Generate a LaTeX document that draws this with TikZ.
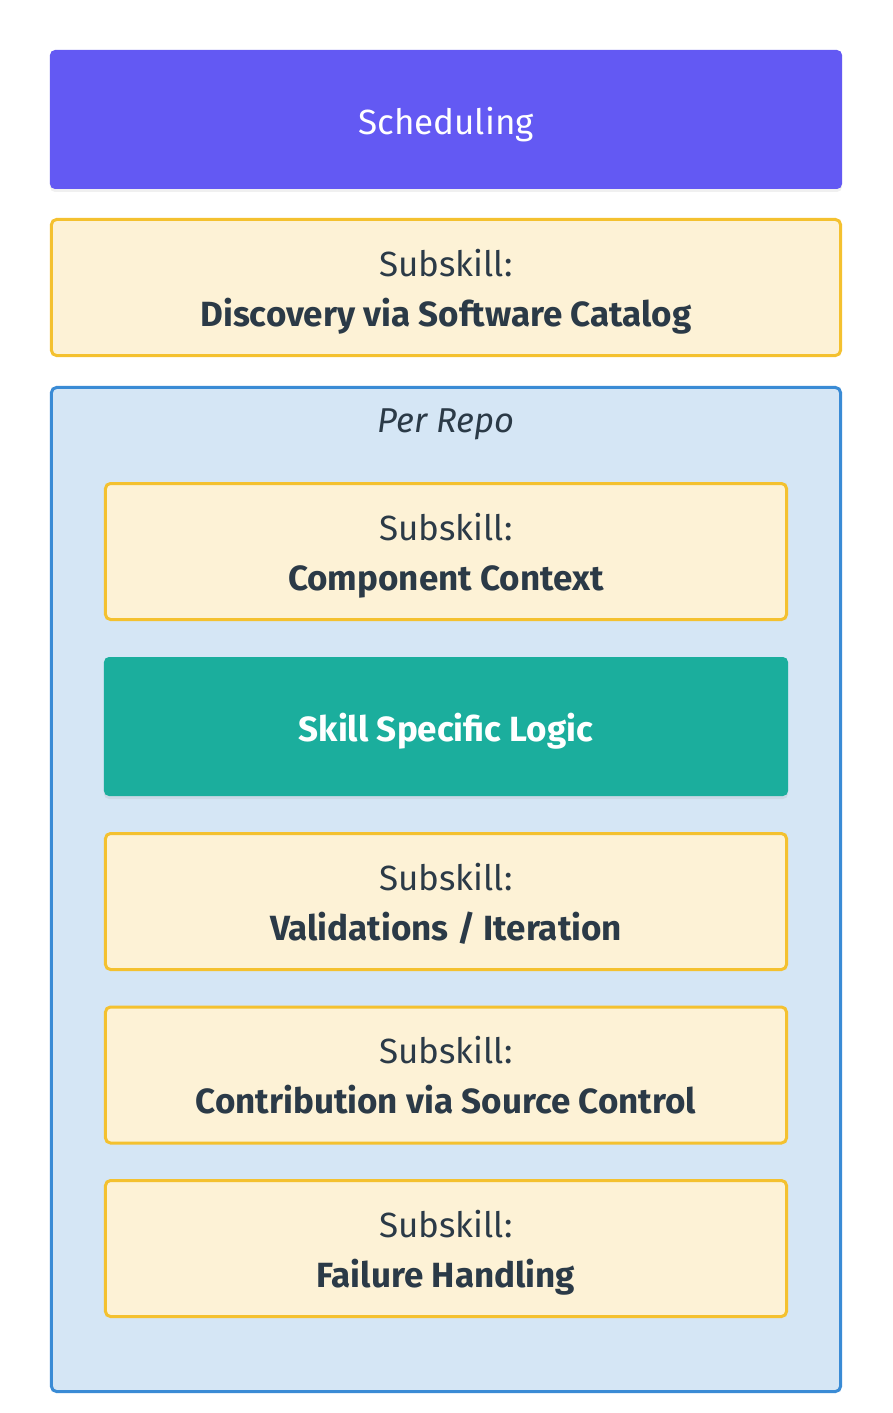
\documentclass[tikz,border=0pt]{standalone}
\usepackage{fontspec}
\setmainfont{Fira Sans}
\usetikzlibrary{positioning,shadows}
\definecolor{schedPurple}{HTML}{6359F3}
\definecolor{subFill}{HTML}{FDF2D6}
\definecolor{subBorder}{HTML}{F4C12F}
\definecolor{repoFill}{HTML}{D5E6F5}
\definecolor{repoBorder}{HTML}{3A8BD5}
\definecolor{logicTeal}{HTML}{1BAE9D}
\definecolor{inkDark}{HTML}{2B3A47}

\begin{document}
\begin{tikzpicture}[x=1bp, y=-1bp,
  box/.style={rectangle, rounded corners=5bp, outer sep=0pt, align=center,
    font=\fontsize{35bp}{50bp}\selectfont},
  subskill/.style={box, fill=subFill, draw=subBorder, line width=3bp,
    text=inkDark, minimum height=136bp, text height=77bp, text depth=0bp},
  solid box/.style={box, text=white, minimum height=139bp, text height=30bp, text depth=0bp,
    drop shadow={opacity=0.12, shadow xshift=0bp, shadow yshift=-3bp}},
  node distance=37.5bp]
	\useasboundingbox (0,0) rectangle (892,1413);
	% top row
	\node[solid box, fill=schedPurple, minimum width=792bp] (sched) at (446,119.5) {Scheduling};
	\node[subskill, minimum width=789bp] (discovery) at (446,287.5) {Subskill:\\\textbf{Discovery via Software Catalog}};
	% per repo container
	\node[box, fill=repoFill, draw=repoBorder, line width=3bp, minimum width=789bp, minimum height=1004bp] (repo) at (446,889.5) {};
	\node[font=\fontsize{34.5bp}{36bp}\selectfont\itshape, text=inkDark] (perrepo) at (446,424) {Per Repo};
	\node[subskill, minimum width=681bp] (context) at (446,551.5) {Subskill:\\\textbf{Component Context}};
	\node[solid box, fill=logicTeal, minimum width=684bp, below=of context, font=\fontsize{35bp}{36bp}\selectfont\bfseries] (logic) {Skill Specific Logic};
	\node[subskill, minimum width=681bp, below=of logic] (validate) {Subskill:\\\textbf{Validations / Iteration}};
	\node[subskill, minimum width=681bp, below=of validate] (contrib) {Subskill:\\\textbf{Contribution via Source Control}};
	\node[subskill, minimum width=681bp, below=of contrib] (failure) {Subskill:\\\textbf{Failure Handling}};
\end{tikzpicture}
\end{document}
